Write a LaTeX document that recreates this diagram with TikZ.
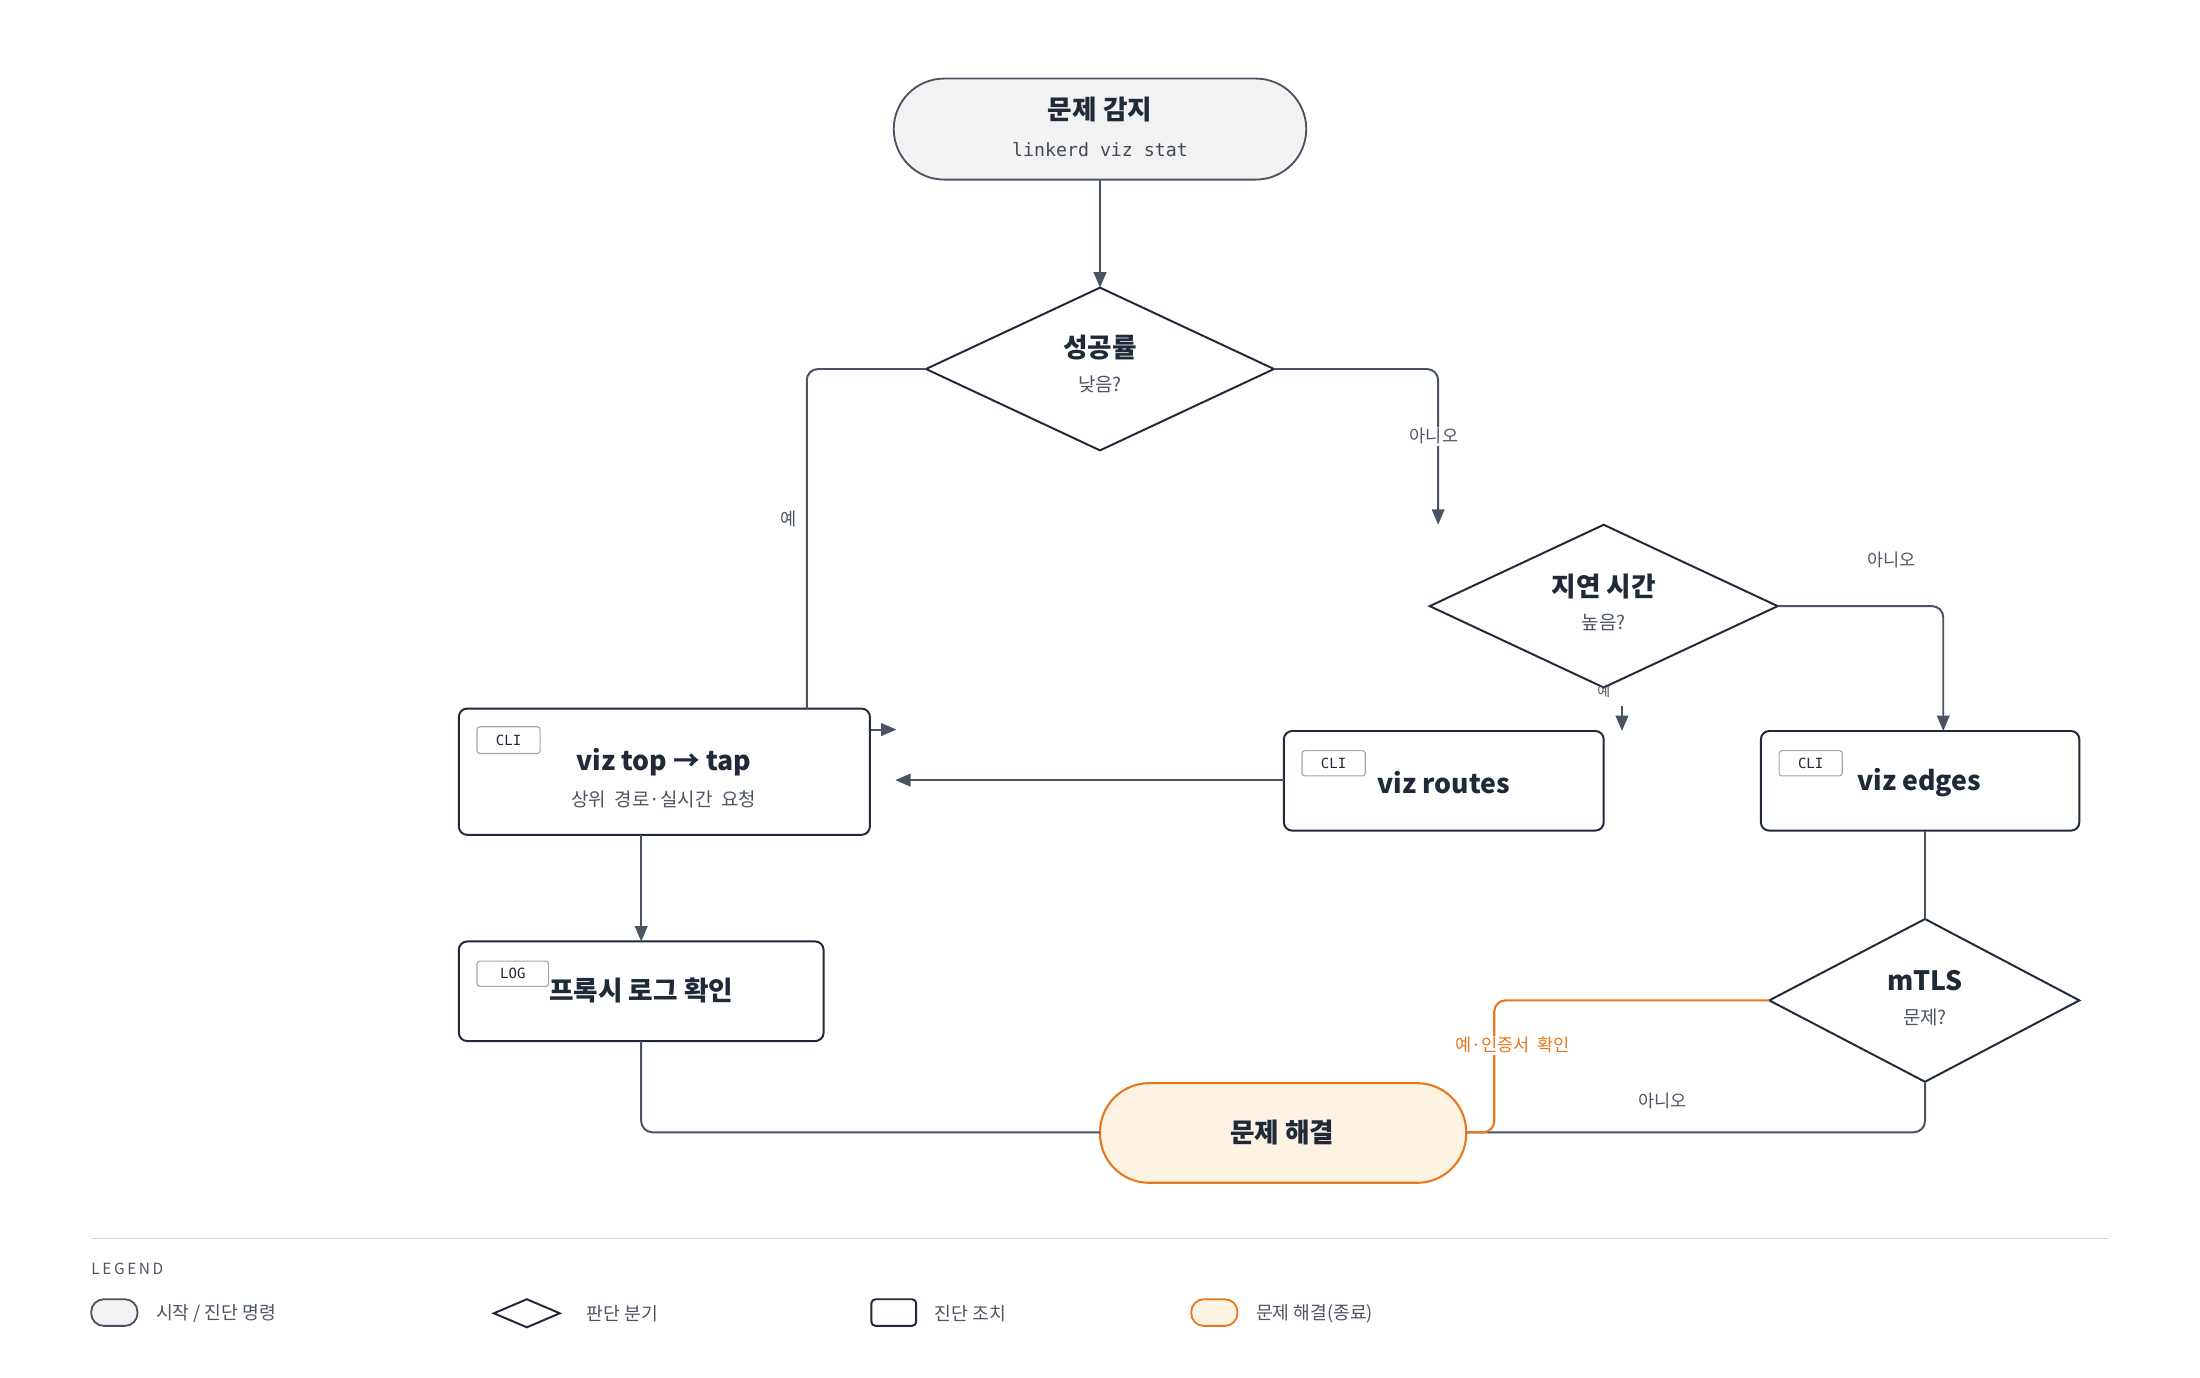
\documentclass[tikz,border=0pt]{standalone}
\usepackage{fontspec}
\setmainfont{Noto Sans CJK KR}
\newfontfamily\monof{DejaVu Sans Mono}
\usetikzlibrary{shapes.geometric,arrows.meta}
\definecolor{ink}{HTML}{1F2937}
\definecolor{sub}{HTML}{4B5563}
\definecolor{edge}{HTML}{4A5361}
\definecolor{org}{HTML}{E8781F}
\definecolor{orgfill}{HTML}{FDF3E3}
\begin{document}
\begin{tikzpicture}[x=1pt,y=-1pt,
  pill/.style={draw=edge,line width=1.3pt,rounded corners=36pt,fill=black!5},
  box/.style={draw=ink,line width=1.4pt,rounded corners=6pt,fill=white},
  dia/.style={draw=ink,line width=1.4pt,fill=white},
  conn/.style={draw=edge,line width=1.4pt,rounded corners=8pt},
  arr/.style={conn,-{Triangle[length=11pt,width=9pt]}},
  tag/.style={draw=black!35,line width=0.8pt,rounded corners=2pt,fill=white,font=\monof\fontsize{10}{10}\selectfont,text=ink,inner sep=0pt},
  ttl/.style={font=\fontsize{19}{22}\selectfont\bfseries,text=ink},
  sb/.style={font=\fontsize{13.5}{16}\selectfont,text=sub},
  lbl/.style={font=\fontsize{12.5}{14}\selectfont,text=sub,fill=white,inner sep=1pt}]
\useasboundingbox (0,0) rectangle (1568,982);
% nodes
\draw[pill] (637,56) rectangle (931,128);
\node[ttl] (st) at (784,78) {문제 감지};
\node[font=\monof\fontsize{13}{14}\selectfont,text=ink!85] at (784,107) {linkerd viz stat};
\coordinate (stb) at (784,128);
\draw[dia] (660,263) coordinate (d1l) -- (784,205) coordinate (d1t) -- (908,263) coordinate (d1r) -- (784,321) -- cycle;
\node[ttl] (d1) at (784,248) {성공률};
\node[sb] at (784,274) {낮음?};
\draw[dia] (1019,432) coordinate (d2l) -- (1143,374) coordinate (d2t) -- (1267,432) coordinate (d2r) -- (1143,490) coordinate (d2b) -- cycle;
\node[ttl] (d2) at (1143,418) {지연 시간};
\node[sb] at (1143,444) {높음?};
\draw[dia] (1261,713) coordinate (d3l) -- (1372,655) coordinate (d3t) -- (1482,713) coordinate (d3r) -- (1372,771) coordinate (d3b) -- cycle;
\node[ttl] (d3) at (1372,699) {mTLS};
\node[sb] at (1372,725) {문제?};
\draw[box] (327,505) rectangle (620,595);
\node[tag,minimum width=45pt,minimum height=19pt] at (362.5,527.5) {CLI};
\node[ttl] at (473,543) {viz top → tap};
\node[sb] at (473,570) {상위\ \ 경로·실시간\ \ 요청};
\draw[box] (915,521) rectangle (1143,592);
\node[tag,minimum width=45pt,minimum height=18pt] at (950.5,544) {CLI};
\node[ttl] at (1029,558) {viz routes};
\draw[box] (1255,521) rectangle (1482,592);
\node[tag,minimum width=45pt,minimum height=18pt] at (1290.5,544) {CLI};
\node[ttl] at (1368,558) {viz edges};
\draw[box] (327,671) rectangle (587,742);
\node[tag,minimum width=51pt,minimum height=18pt] at (365.5,694) {LOG};
\node[ttl] at (457,706) {프록시 로그 확인};
\draw[draw=org,line width=1.5pt,fill=orgfill,rounded corners=35pt] (784,772) rectangle (1045,843);
\node[ttl] (res) at (914,807) {문제 해결};
% coords
\coordinate (topT) at (575,505);
\coordinate (a2) at (1025,374);
\coordinate (topB) at (457,595);
\coordinate (logT) at (457,671);
\coordinate (logB) at (457,742);
\coordinate (resL) at (784,807);
\coordinate (resR) at (1045,807);
\coordinate (edT) at (1385,521);
\coordinate (edB) at (1372,592);
\coordinate (roL) at (915,556);
\coordinate (topR) at (638,556);
% connectors
\draw[arr] (stb) -- (d1t);
\draw[conn] (d1l) -| (topT);
\node[lbl] at (562,370) {예};
\draw[arr] (d1r) -| (a2);
\node[lbl] at (1022,311) {아니오};
\draw[arr] (d2r) -| (edT);
\node[lbl] at (1348,399) {아니오};
\node[font=\fontsize{10}{10}\selectfont,text=sub] at (1143,493) {예};
\coordinate (s1) at (1156,503); \coordinate (s2) at (1156,521);
\draw[arr] (s1) -- (s2);
\coordinate (t1) at (621,520); \coordinate (t2) at (639,520);
\draw[arr] (t1) -- (t2);
\draw[arr] (roL) -- (topR);
\draw[arr] (topB) -- (logT);
\draw[conn] (edB) -- (d3t);
\draw[conn] (logB) |- (resL);
\draw[conn] (d3b) |- (resR);
\node[lbl] at (1185,785) {아니오};
\draw[draw=org,line width=1.5pt,rounded corners=8pt] (d3l) -| (1065,807) -- (resR);
\node[font=\fontsize{12.5}{14}\selectfont,text=org,fill=white,inner sep=1pt] at (1078,745) {예·인증서\ \ 확인};
% legend
\draw[black!15,line width=0.8pt] (65,883) -- (1503,883);
\node[anchor=west,font=\fontsize{11}{12}\selectfont,text=sub,inner sep=0pt] at (65,904) {L\,E\,G\,E\,N\,D};
\draw[draw=edge,line width=1.3pt,fill=black!5,rounded corners=9pt] (65,926) rectangle (98,945);
\node[anchor=west,font=\fontsize{13}{14}\selectfont,text=sub,inner sep=0pt] at (111,936) {시작 / 진단 명령};
\draw[dia] (352,936) -- (375.5,926) -- (399,936) -- (375.5,946) -- cycle;
\node[anchor=west,font=\fontsize{13}{14}\selectfont,text=sub,inner sep=0pt] at (418,936) {판단 분기};
\draw[box,rounded corners=3pt] (621,926) rectangle (653,945);
\node[anchor=west,font=\fontsize{13}{14}\selectfont,text=sub,inner sep=0pt] at (666,936) {진단 조치};
\draw[draw=org,line width=1.3pt,fill=orgfill,rounded corners=9pt] (849,926) rectangle (882,945);
\node[anchor=west,font=\fontsize{13}{14}\selectfont,text=sub,inner sep=0pt] at (895,936) {문제 해결(종료)};
\end{tikzpicture}
\end{document}
